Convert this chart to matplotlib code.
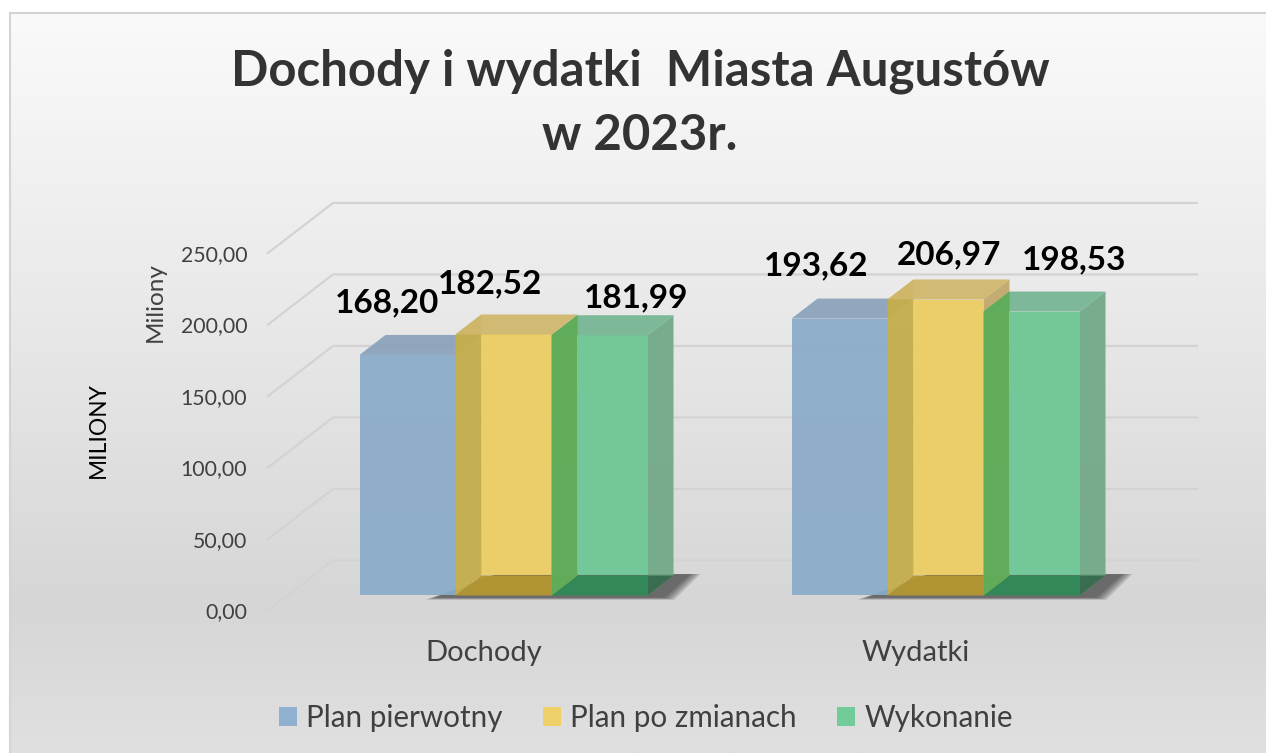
import matplotlib
matplotlib.use('Agg')
import matplotlib.pyplot as plt
from matplotlib.patches import Polygon, Patch
from matplotlib.colors import LinearSegmentedColormap
import numpy as np

plt.rcParams['font.family'] = ['Lato', 'DejaVu Sans']

W, H = 1266, 753

categories = ['Dochody', 'Wydatki']
series_names = ['Plan pierwotny', 'Plan po zmianach', 'Wykonanie']
plan_pierwotny = [168.20, 193.62]
plan_po_zmianach = [182.52, 206.97]
wykonanie = [181.99, 198.53]
y_ticks = [0, 50, 100, 150, 200, 250]
y_labels = ['0,00', '50,00', '100,00', '150,00', '200,00', '250,00']

# oblique depth of the floor, in data units
DX = 65 / 432
DY = 35.0
D0, D1 = 0.3, 0.7
BAR_W = 96 / 432

colors = {
    'blue': dict(front='#8aabc9', top='#8aa2bb'),
    'yellow': dict(front='#ecce66', top='#d0b76b', left='#c4ae4e', right='#bfa868', floor='#b39530',
                   corner='#b39530', left_z=0.2),
    'green': dict(front='#70c796', top='#75b593', left='#5fac5a', right='#6fa886', floor='#328a5a',
                  corner='#3a6d50', left_z=0.5),
}
swatches = ['#8fb0ce', '#efcf68', '#72cc9a']
# label offsets from the front top centre of each bar, pixels
label_offsets = [[(-20, 52), (-14, 51), (37, 37)], [(-23, 53), (13, 45), (43, 52)]]


def pt(x, v, d):
    return (x + d * DX, v + d * DY)


def poly(ax, pts, color, z, alpha=0.93):
    ax.add_patch(Polygon(pts, closed=True, fc=color, ec='none', alpha=alpha, zorder=z))


def draw_bar(ax, x0, v, c, z):
    x1 = x0 + BAR_W
    dd = D1 - D0
    if 'floor' in c:
        inner = x0 + DX * dd
        poly(ax, [pt(x0, 0, D0), pt(x1, 0, D0), pt(x1, 0, D1), pt(x0, 0, D1)], c['floor'], z, 0.97)
        poly(ax, [pt(x1, 0, D0), pt(x1, 0, D1), pt(x1, v, D1), pt(x1, v, D0)], c['right'], z + 0.1)
        poly(ax, [pt(x1, 0, D0), pt(x1, 0, D1), pt(x1, DY * dd, D0)], c['corner'], z + 0.15, 1)
        poly(ax, [pt(x0, 0, D0), pt(x0, 0, D1), pt(x0, v, D1), pt(x0, v, D0)], c['left'], z + c['left_z'], 0.97)
        poly(ax, [pt(inner, DY * dd, D0), pt(x1, DY * dd, D0), pt(x1, v, D0), pt(inner, v, D0)],
             c['front'], z + 0.3, 0.97)
    else:
        poly(ax, [pt(x0, 0, D0), pt(x1, 0, D0), pt(x1, v, D0), pt(x0, v, D0)], c['front'], z + 0.3)
    poly(ax, [pt(x0, v, D0), pt(x1, v, D0), pt(x1, v, D1), pt(x0, v, D1)], c['top'], z + 0.4)


fig = plt.figure(figsize=(W / 100, H / 100), dpi=100, facecolor='white')

# page gradient
bg = fig.add_axes([10 / W, 0, 1 - 10 / W, 1 - 13 / H], zorder=0)
bg_cmap = LinearSegmentedColormap.from_list('bg', [(0, '#fafafa'), (0.4, '#e9e9e9'), (0.8, '#d6d6d6'), (1, '#e0e0e0')])
bg.imshow(np.linspace(0, 1, 256).reshape(-1, 1), aspect='auto', cmap=bg_cmap, vmin=0, vmax=1)
bg.set_xticks([])
bg.set_yticks([])
for s in ['right', 'bottom']:
    bg.spines[s].set_visible(False)
for s in ['left', 'top']:
    bg.spines[s].set_color('#d4d4d4')
    bg.spines[s].set_linewidth(1.5)

# plot area: value 0 sits at y=610.5 px, 1.43 px per unit
ax = fig.add_axes([268 / W, (H - 610.5) / H, 929 / W, 285 * 1.43 / H], zorder=1)
ax.patch.set_visible(False)
ax.set_xlim(-0.5, 1.5 + DX)
ax.set_ylim(0, 250 + DY)
for s in ax.spines.values():
    s.set_visible(False)

for t in y_ticks:
    ax.plot([-0.5, -0.5 + DX, 1.5 + DX], [t, t + DY, t + DY], color='#d3d3d3', lw=1.6, zorder=1, clip_on=False)

ax.set_yticks(y_ticks)
ax.set_yticklabels(y_labels, fontsize=15.3, color='#404040')
ax.set_xticks([0, 1])
ax.set_xticklabels(categories, fontsize=21, color='#404040')
ax.tick_params(length=0)
ax.tick_params(axis='x', pad=21)
ax.tick_params(axis='y', pad=15)

all_series = [plan_pierwotny, plan_po_zmianach, wykonanie]
names = ['blue', 'yellow', 'green']
for i in range(len(categories)):
    left = i - 1.5 * BAR_W
    # shadow on the floor behind the yellow and green bars
    sx0 = left + BAR_W - 20 / 432
    sx1 = left + 3 * BAR_W + 17 / 432
    for k in range(6):
        g = (5 - k) * 2.0 / 432
        g2 = (5 - k) * 1.0
        poly(ax, [pt(sx0 - g, -1.5 - g2 * 0.3, D0), pt(sx1 + g, -1.5 - g2 * 0.3, D0),
                  pt(sx1 + g, 1, D1), pt(sx0 + 35 / 432, 1, D1)], '#1a1a1a', 1.5, 0.13)
    for j, vals in enumerate(all_series):
        x0 = left + j * BAR_W
        draw_bar(ax, x0, vals[i], colors[names[j]], 2 + j)
        ax.annotate(f'{vals[i]:.2f}'.replace('.', ','), xy=pt(x0 + BAR_W / 2, vals[i], D0),
                    xytext=label_offsets[i][j], textcoords='offset pixels', ha='center', va='center',
                    fontsize=24, fontweight='bold', color='black', zorder=10, annotation_clip=False)

fig.text(640 / W, 1 - 103 / H, 'Dochody i wydatki  Miasta Augustów\nw 2023r.', ha='center', va='center',
         fontsize=35.4, fontweight='bold', color='#333333', linespacing=1.5)
fig.text(155 / W, 1 - 302 / H, 'Miliony', rotation=90, ha='center', va='center', fontsize=17.5, color='#404040')
fig.text(98 / W, 1 - 430 / H, 'MILIONY', rotation=90, ha='center', va='center', fontsize=16.4, color='black')

handles = [Patch(fc=c, ec='none') for c in swatches]
fig.legend(handles, series_names, loc='center', bbox_to_anchor=(646 / W, 1 - 718 / H), ncol=3, frameon=False,
           fontsize=21.3, labelcolor='#404040', handlelength=0.62, handleheight=0.62, handletextpad=0.31,
           columnspacing=1.35)

fig.savefig('out.png', dpi=100)
